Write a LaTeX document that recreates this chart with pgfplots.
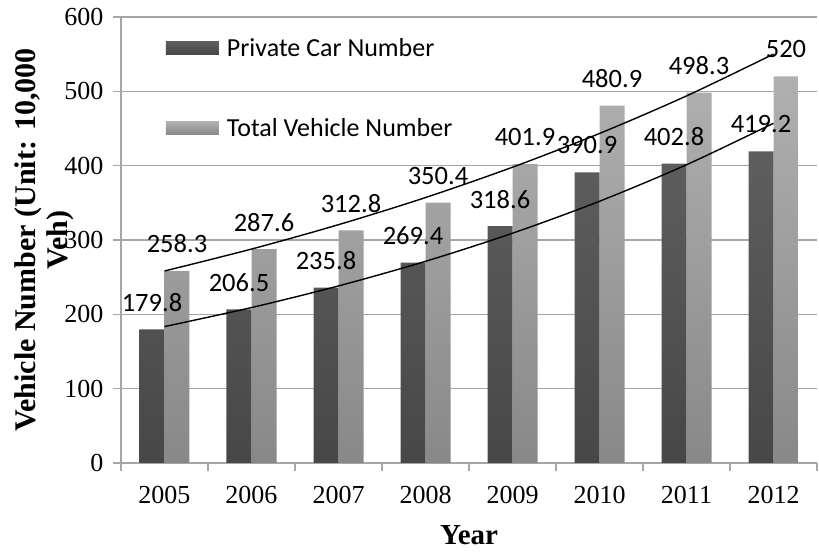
\documentclass[border=0pt]{standalone}
\usepackage{fontspec}
\setmainfont{Liberation Serif}
\newfontfamily\calibri{Carlito}
\usepackage{pgfplots}
\pgfplotsset{compat=1.18}
\definecolor{privtop}{HTML}{5E5E5E}
\definecolor{privbot}{HTML}{474747}
\definecolor{tottop}{HTML}{B0B0B0}
\definecolor{totbot}{HTML}{888888}
\definecolor{gridc}{HTML}{A6A6A6}
\begin{document}
\begin{tikzpicture}
\useasboundingbox (-121pt,-90pt) rectangle (698pt,463pt);
\begin{axis}[
  at={(0pt,0pt)}, anchor=south west,
  scale only axis, width=696pt, height=446pt,
  xmin=-0.5, xmax=7.5, ymin=0, ymax=600,
  xtick={-0.5,0.5,...,7.5},
  x tick label as interval,
  xticklabels={2005,2006,2007,2008,2009,2010,2011,2012},
  ytick={0,100,...,600},
  ymajorgrids,
  grid style={gridc, line width=1.2pt},
  axis lines=left, axis line style={-, draw=gridc, line width=1.2pt},
  tick align=outside, major tick length=8pt,
  tick style={draw=gridc, line width=1.2pt},
  tick label style={font=\fontsize{26}{28}\selectfont},
  xticklabel style={yshift=-12pt},
  yticklabel style={xshift=-6pt},
  /pgf/number format/assume math mode=true,
  xlabel={\textbf{Year}},
  ylabel={\textbf{Vehicle Number (Unit: 10,000}\\\textbf{Veh)}},
  xlabel style={at={(axis description cs:0.5,-0.161)}, anchor=center, font=\fontsize{29}{31}\selectfont},
  ylabel style={at={(axis description cs:-0.1106,0.5)}, anchor=center, align=center, font=\fontsize{30}{32}\selectfont},
  legend style={at={(axis description cs:0.06,0.962)}, anchor=north west, draw=none, fill=none,
     font=\calibri\fontsize{26}{28}\selectfont, row sep=57pt},
  legend cell align=left,
]
\addplot[ybar, bar width=25pt, bar shift=-12.5pt, draw=none, top color=privtop, bottom color=privbot,
  nodes near coords,
  every node near coord/.append style={font=\calibri\fontsize{26.5}{28}\selectfont, anchor=center, xshift=-12.5pt, yshift=27pt, text=black},
  legend image code/.code={\fill[top color=privtop,bottom color=privbot] (0pt,-6.5pt) rectangle (53pt,6.5pt); \path (53pt,0pt) -- (59pt,0pt);}]
  coordinates {(0,179.8) (1,206.5) (2,235.8) (3,269.4) (4,318.6) (5,390.9) (6,402.8) (7,419.2)};
\addlegendentry{Private Car Number}
\addplot[ybar, bar width=25pt, bar shift=12.5pt, draw=none, top color=tottop, bottom color=totbot,
  nodes near coords,
  every node near coord/.append style={font=\calibri\fontsize{26.5}{28}\selectfont, anchor=center, xshift=12.5pt, yshift=27pt, text=black},
  legend image code/.code={\fill[top color=tottop,bottom color=totbot] (0pt,-6.5pt) rectangle (53pt,6.5pt); \path (53pt,0pt) -- (59pt,0pt);}]
  coordinates {(0,258.3) (1,287.6) (2,312.8) (3,350.4) (4,401.9) (5,480.9) (6,498.3) (7,520)};
\addlegendentry{Total Vehicle Number}
\addplot[black, line width=1.4pt, smooth, no marks, forget plot]
  coordinates {(0,183.5) (1,209.1) (2,238.2) (3,271.3) (4,309.1) (5,352.1) (6,401.2) (7,457.0)};
\addplot[black, line width=1.4pt, smooth, no marks, forget plot]
  coordinates {(0,258.3) (1,287.8) (2,320.6) (3,357.1) (4,397.9) (5,443.3) (6,493.8) (7,550.1)};
\end{axis}
\end{tikzpicture}
\end{document}
